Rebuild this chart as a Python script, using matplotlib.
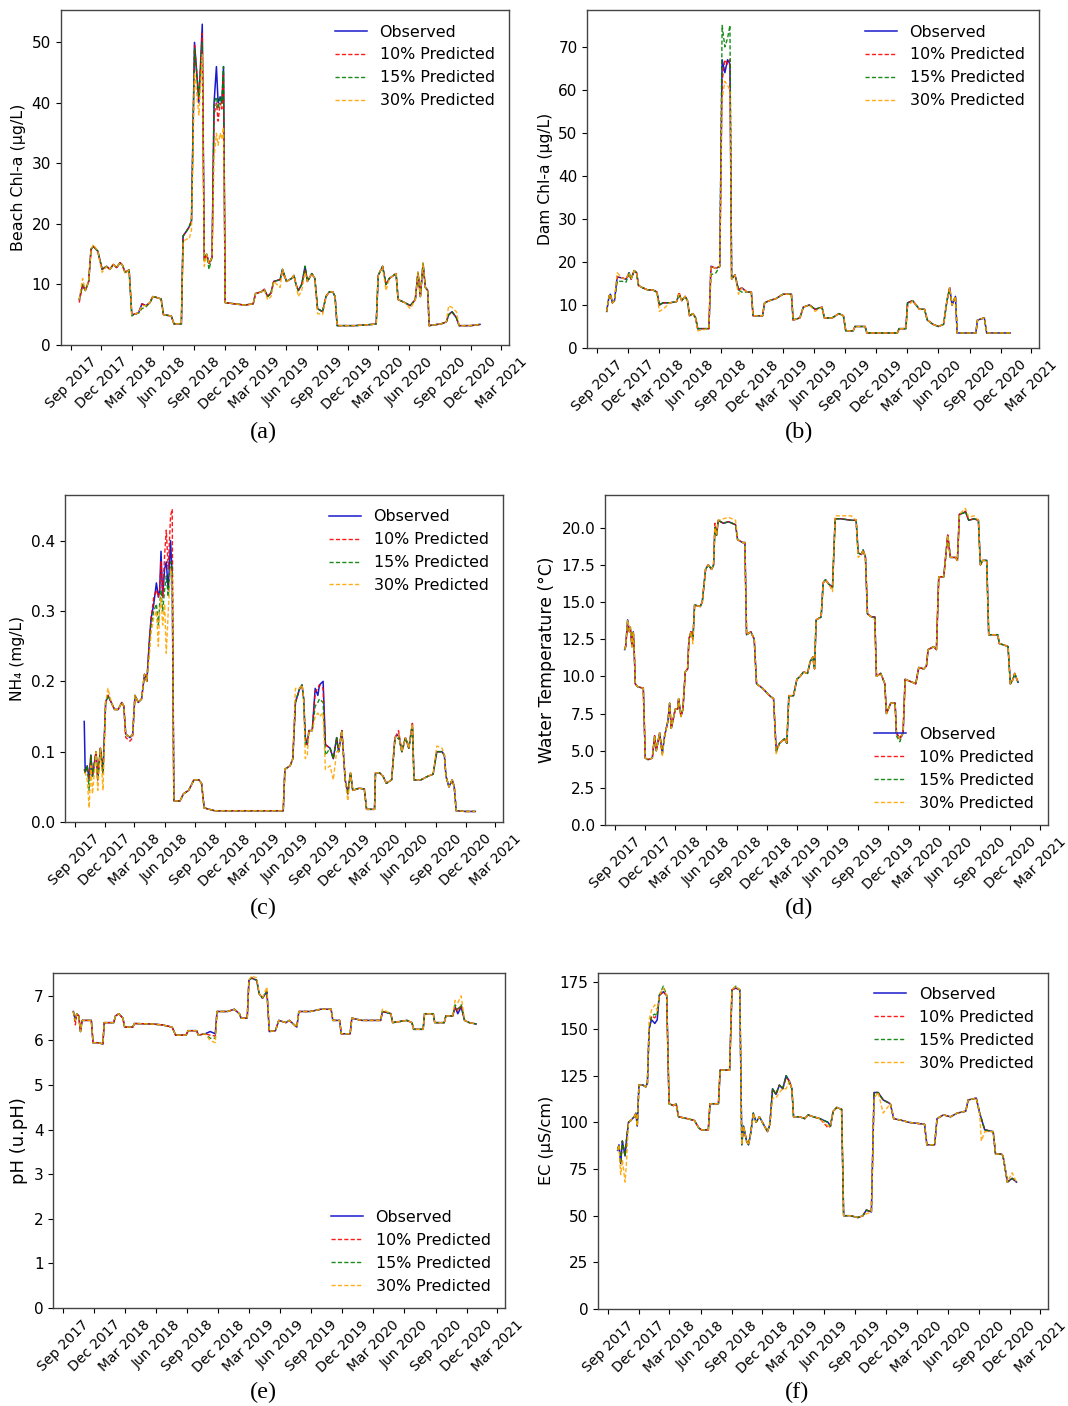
import matplotlib
matplotlib.use('Agg')
import matplotlib.pyplot as plt
import matplotlib.dates as mdates
from matplotlib.ticker import MultipleLocator
import pandas as pd

# ---------------- (a) Beach Chl-a ----------------
a_dates = ['2017-09-26', '2017-10-06', '2017-10-14', '2017-10-24', '2017-10-31', '2017-11-07', '2017-11-20', '2017-12-03', '2017-12-16', '2017-12-26',
           '2018-01-05', '2018-01-15', '2018-01-25', '2018-02-01', '2018-02-09', '2018-02-21', '2018-03-01', '2018-03-21', '2018-03-31', '2018-04-12',
           '2018-04-24', '2018-05-02', '2018-05-17', '2018-05-27', '2018-06-03', '2018-06-26', '2018-07-04', '2018-07-26', '2018-07-31', '2018-08-10',
           '2018-08-18', '2018-08-25', '2018-09-03', '2018-09-16', '2018-09-26', '2018-10-02', '2018-10-09', '2018-10-16', '2018-10-25', '2018-10-31',
           '2018-11-07', '2018-11-12', '2018-11-18', '2018-11-23', '2018-11-28', '2018-12-03', '2018-12-31', '2019-01-30', '2019-02-24', '2019-03-03',
           '2019-03-21', '2019-03-29', '2019-04-08', '2019-04-18', '2019-04-26', '2019-05-15', '2019-05-22', '2019-06-03', '2019-06-18', '2019-06-25',
           '2019-07-01', '2019-07-08', '2019-07-18', '2019-07-28', '2019-08-04', '2019-08-17', '2019-08-26', '2019-09-03', '2019-09-18', '2019-09-28',
           '2019-10-08', '2019-10-18', '2019-10-25', '2019-10-31', '2019-12-23', '2020-02-12', '2020-02-24', '2020-03-01', '2020-03-14', '2020-03-24',
           '2020-04-03', '2020-04-23', '2020-04-29', '2020-05-19', '2020-06-04', '2020-06-19', '2020-06-27', '2020-07-04', '2020-07-12', '2020-07-19',
           '2020-07-26', '2020-07-30', '2020-09-04', '2020-09-19', '2020-09-26', '2020-10-06', '2020-10-19', '2020-10-27', '2020-12-01', '2020-12-28']
a_obs = [7.5, 10.0, 9.0, 10.5, 15.8, 16.3, 15.5, 12.5, 13.0, 12.5,
         13.3, 12.8, 13.6, 13.2, 12.0, 12.4, 5.0, 5.3, 6.8, 6.5,
         7.0, 8.0, 7.8, 7.6, 5.0, 4.8, 3.5, 3.5, 18.0, 18.8,
         19.5, 20.5, 50.0, 40.0, 53.0, 14.0, 15.0, 13.5, 14.5, 40.0,
         46.0, 40.0, 41.0, 40.0, 46.0, 7.0, 6.8, 6.6, 6.8, 8.5,
         8.8, 9.2, 8.0, 8.6, 10.5, 10.8, 12.5, 10.5, 11.0, 11.5,
         10.0, 9.0, 10.0, 13.0, 10.5, 11.8, 11.0, 6.0, 5.5, 8.0,
         8.8, 8.8, 8.0, 3.2, 3.2, 3.4, 3.5, 11.5, 13.0, 10.0,
         11.0, 11.8, 7.5, 7.0, 6.5, 7.5, 12.0, 8.0, 13.5, 9.5,
         9.0, 3.2, 3.5, 3.8, 5.0, 5.5, 4.5, 3.2, 3.2, 3.4]
a_p10 = [7.0, 10.0, 9.0, 10.5, 15.8, 16.3, 15.5, 12.5, 13.0, 12.5,
         13.3, 12.8, 13.6, 13.2, 12.0, 12.4, 5.0, 5.3, 6.8, 6.5,
         7.0, 8.0, 7.8, 7.6, 5.0, 4.8, 3.5, 3.5, 18.0, 18.8,
         19.5, 20.5, 49.5, 40.5, 51.5, 14.0, 15.0, 13.5, 14.5, 38.0,
         40.0, 37.0, 40.0, 39.0, 45.0, 7.0, 6.8, 6.6, 6.8, 8.5,
         8.8, 9.2, 8.0, 8.6, 10.5, 10.8, 12.0, 10.5, 11.0, 11.5,
         10.0, 9.0, 10.0, 12.5, 10.5, 11.8, 11.0, 6.0, 5.5, 8.0,
         8.8, 8.8, 8.0, 3.2, 3.2, 3.4, 3.5, 11.5, 13.0, 10.0,
         11.0, 11.8, 7.5, 7.0, 6.5, 7.5, 12.0, 8.0, 13.0, 9.5,
         9.0, 3.2, 3.5, 3.8, 5.0, 5.5, 4.5, 3.2, 3.2, 3.4]
a_p15 = [7.5, 10.0, 9.0, 10.5, 15.8, 16.3, 15.5, 12.5, 13.0, 12.5,
         13.3, 12.8, 13.6, 13.2, 12.0, 12.4, 4.8, 5.3, 6.0, 6.3,
         7.0, 8.0, 7.8, 7.6, 5.0, 4.8, 3.5, 3.5, 18.0, 18.8,
         19.5, 20.5, 49.0, 41.0, 50.0, 14.0, 15.0, 12.5, 14.5, 40.0,
         41.0, 39.0, 41.0, 40.0, 46.0, 7.0, 6.8, 6.6, 6.8, 8.5,
         8.8, 9.2, 8.0, 8.6, 10.5, 10.8, 12.5, 10.5, 11.0, 11.5,
         10.0, 9.0, 10.0, 13.0, 10.5, 11.8, 11.0, 6.0, 5.5, 8.0,
         8.8, 8.8, 8.0, 3.2, 3.2, 3.4, 3.5, 11.5, 13.0, 10.0,
         11.0, 11.8, 7.5, 7.0, 6.5, 7.5, 12.0, 8.0, 13.5, 9.5,
         9.0, 3.2, 3.5, 3.8, 5.0, 5.5, 4.5, 3.2, 3.2, 3.4]
a_p30 = [7.5, 11.0, 9.0, 10.5, 15.8, 16.6, 15.5, 12.0, 13.0, 12.5,
         13.3, 12.8, 13.6, 13.2, 11.8, 12.4, 5.0, 5.3, 6.5, 6.5,
         7.0, 8.0, 7.8, 7.6, 5.0, 4.8, 3.5, 3.5, 17.0, 17.5,
         17.5, 19.0, 45.0, 38.0, 48.0, 13.0, 15.0, 13.5, 14.5, 31.0,
         35.0, 33.0, 35.0, 34.0, 36.0, 7.0, 6.8, 6.6, 6.8, 8.5,
         8.8, 9.2, 7.5, 8.0, 10.5, 9.5, 12.5, 10.5, 11.0, 11.5,
         10.0, 8.0, 9.0, 12.0, 10.5, 11.8, 11.0, 5.2, 5.0, 8.0,
         8.8, 8.8, 8.0, 3.2, 3.2, 3.4, 3.5, 11.5, 13.0, 9.0,
         11.0, 11.8, 7.5, 7.0, 6.0, 7.5, 12.0, 8.0, 13.5, 9.5,
         9.0, 3.2, 3.5, 3.8, 6.5, 6.2, 5.5, 3.2, 3.2, 3.4]

# ---------------- (b) Dam Chl-a ----------------
b_dates = ['2017-09-28', '2017-10-05', '2017-10-09', '2017-10-15', '2017-10-21', '2017-10-29', '2017-11-12', '2017-11-24', '2017-12-03', '2017-12-09',
           '2017-12-18', '2017-12-25', '2017-12-31', '2018-01-12', '2018-01-27', '2018-02-11', '2018-02-23', '2018-03-02', '2018-03-13', '2018-04-02',
           '2018-04-22', '2018-04-29', '2018-05-07', '2018-05-17', '2018-05-24', '2018-05-30', '2018-06-09', '2018-06-17', '2018-06-23', '2018-07-26',
           '2018-08-01', '2018-08-16', '2018-08-27', '2018-09-03', '2018-09-11', '2018-09-19', '2018-09-26', '2018-10-01', '2018-10-11', '2018-10-21',
           '2018-10-31', '2018-11-15', '2018-11-28', '2018-12-03', '2018-12-31', '2019-01-06', '2019-01-20', '2019-02-09', '2019-03-01', '2019-03-26',
           '2019-03-31', '2019-04-20', '2019-04-30', '2019-05-18', '2019-06-04', '2019-06-24', '2019-07-01', '2019-07-24', '2019-08-13', '2019-08-26',
           '2019-09-02', '2019-09-24', '2019-09-29', '2019-10-29', '2019-11-03', '2020-02-01', '2020-02-06', '2020-02-26', '2020-03-02', '2020-03-17',
           '2020-04-06', '2020-04-21', '2020-04-29', '2020-05-16', '2020-06-01', '2020-06-16', '2020-06-26', '2020-07-04', '2020-07-11', '2020-07-21',
           '2020-07-26', '2020-09-19', '2020-09-24', '2020-10-14', '2020-10-21', '2020-12-01', '2020-12-29']
b_obs = [8.5, 12.0, 12.5, 10.5, 11.0, 16.5, 16.3, 16.0, 17.5, 16.0,
         18.0, 17.5, 14.5, 14.0, 13.5, 13.5, 13.0, 10.0, 10.5, 10.5,
         10.8, 12.5, 11.0, 12.0, 11.0, 7.5, 8.0, 7.0, 4.5, 4.5,
         19.0, 18.5, 19.0, 67.0, 64.0, 67.0, 66.0, 16.0, 17.0, 13.5,
         14.0, 13.0, 13.0, 7.5, 7.5, 10.5, 11.0, 11.5, 12.5, 12.5,
         6.5, 7.0, 9.5, 10.0, 9.0, 9.5, 7.0, 7.0, 8.0, 7.5,
         4.0, 4.0, 5.0, 5.0, 3.5, 3.5, 4.5, 4.5, 10.5, 11.0,
         9.0, 9.0, 6.5, 5.5, 5.0, 5.5, 11.0, 14.0, 10.0, 12.0,
         3.5, 3.5, 6.5, 7.0, 3.5, 3.5, 3.5]
b_p10 = [8.5, 12.0, 12.5, 10.5, 11.0, 16.5, 16.3, 16.0, 17.0, 16.0,
         18.0, 17.5, 14.5, 14.0, 13.5, 13.5, 13.0, 10.0, 10.5, 10.5,
         10.8, 13.0, 11.0, 12.0, 11.0, 7.5, 8.0, 7.0, 4.5, 4.5,
         19.0, 18.5, 19.0, 62.0, 67.0, 66.0, 67.0, 16.0, 17.0, 13.5,
         14.0, 13.0, 13.0, 7.5, 7.5, 10.5, 11.0, 11.5, 12.5, 12.5,
         6.5, 7.0, 9.5, 10.0, 9.0, 9.5, 7.0, 7.0, 8.0, 7.5,
         4.0, 4.0, 5.0, 5.0, 3.5, 3.5, 4.5, 4.5, 10.5, 11.0,
         9.0, 9.0, 6.5, 5.5, 5.0, 5.5, 11.0, 14.0, 10.0, 12.0,
         3.5, 3.5, 6.5, 7.0, 3.5, 3.5, 3.5]
b_p15 = [8.5, 12.0, 12.5, 10.5, 11.0, 15.5, 15.5, 15.3, 17.5, 16.0,
         18.0, 17.5, 14.5, 14.0, 13.5, 13.5, 13.0, 10.0, 10.5, 10.5,
         10.8, 12.5, 11.0, 12.0, 11.0, 7.5, 8.0, 7.0, 4.5, 4.5,
         17.0, 17.5, 19.0, 75.0, 70.0, 72.0, 75.0, 16.0, 17.0, 13.5,
         13.0, 13.0, 13.0, 7.5, 7.5, 10.5, 11.0, 11.5, 12.5, 12.5,
         6.5, 7.0, 9.5, 10.0, 9.0, 9.5, 7.0, 7.0, 8.0, 7.5,
         4.0, 4.0, 5.0, 5.0, 3.5, 3.5, 4.5, 4.5, 10.5, 11.0,
         9.0, 9.0, 6.5, 5.5, 5.0, 5.5, 11.0, 13.5, 10.0, 12.0,
         3.5, 3.5, 6.5, 7.0, 3.5, 3.5, 3.5]
b_p30 = [8.5, 12.0, 12.5, 10.5, 11.0, 17.5, 16.3, 16.0, 17.5, 16.0,
         18.0, 17.5, 14.5, 14.0, 13.5, 13.5, 13.0, 8.5, 9.0, 10.5,
         10.8, 12.5, 11.0, 12.0, 11.0, 7.5, 8.0, 7.0, 4.0, 4.5,
         19.0, 18.5, 19.0, 58.0, 62.0, 61.0, 60.0, 16.0, 17.0, 12.5,
         14.0, 13.0, 13.0, 7.5, 7.5, 10.5, 11.0, 11.5, 12.5, 12.5,
         6.5, 7.0, 9.5, 10.0, 8.5, 9.5, 7.0, 7.0, 8.0, 7.5,
         4.0, 4.0, 5.0, 5.0, 3.5, 3.5, 4.5, 4.5, 9.5, 11.0,
         9.0, 9.0, 6.5, 5.5, 5.0, 5.5, 11.0, 14.0, 10.0, 12.0,
         3.5, 3.5, 6.5, 7.0, 3.5, 3.5, 3.5]

# ---------------- (c) NH4 ----------------
c_dates = ['2017-09-30', '2017-10-03', '2017-10-09', '2017-10-15', '2017-10-20', '2017-10-25', '2017-11-05', '2017-11-10', '2017-11-18', '2017-11-26',
           '2017-12-04', '2017-12-11', '2017-12-21', '2017-12-31', '2018-01-11', '2018-01-22', '2018-01-28', '2018-02-03', '2018-02-16', '2018-02-24',
           '2018-03-03', '2018-03-13', '2018-03-23', '2018-04-01', '2018-04-08', '2018-04-16', '2018-04-21', '2018-04-29', '2018-05-07', '2018-05-13',
           '2018-05-17', '2018-05-21', '2018-05-26', '2018-06-01', '2018-06-06', '2018-06-12', '2018-06-19', '2018-06-24', '2018-06-29', '2018-07-18',
           '2018-07-28', '2018-08-13', '2018-08-29', '2018-09-13', '2018-09-21', '2018-09-29', '2018-10-31', '2019-01-24', '2019-04-15', '2019-05-27',
           '2019-06-01', '2019-06-17', '2019-06-25', '2019-07-03', '2019-07-16', '2019-07-23', '2019-07-28', '2019-08-02', '2019-08-08', '2019-08-13',
           '2019-08-23', '2019-09-01', '2019-09-09', '2019-09-14', '2019-09-25', '2019-10-02', '2019-10-16', '2019-10-26', '2019-11-05', '2019-11-11',
           '2019-11-21', '2019-12-01', '2019-12-09', '2019-12-17', '2019-12-24', '2020-01-12', '2020-01-28', '2020-02-04', '2020-02-28', '2020-03-02',
           '2020-03-14', '2020-03-25', '2020-04-04', '2020-04-20', '2020-04-30', '2020-05-11', '2020-05-21', '2020-06-01', '2020-06-11', '2020-06-22',
           '2020-06-27', '2020-07-18', '2020-08-08', '2020-08-24', '2020-09-04', '2020-09-20', '2020-09-27', '2020-10-02', '2020-10-11', '2020-10-21',
           '2020-10-27', '2020-11-02', '2020-12-01', '2020-12-30']
c_obs = [0.143, 0.07, 0.08, 0.06, 0.095, 0.065, 0.10, 0.06, 0.105, 0.07,
         0.17, 0.18, 0.17, 0.16, 0.16, 0.17, 0.165, 0.125, 0.12, 0.125,
         0.18, 0.17, 0.175, 0.21, 0.20, 0.26, 0.29, 0.31, 0.34, 0.32,
         0.33, 0.385, 0.32, 0.36, 0.37, 0.33, 0.40, 0.35, 0.03, 0.03,
         0.04, 0.045, 0.06, 0.06, 0.055, 0.02, 0.016, 0.016, 0.016, 0.016,
         0.075, 0.08, 0.09, 0.17, 0.19, 0.195, 0.175, 0.12, 0.11, 0.13,
         0.13, 0.19, 0.18, 0.195, 0.20, 0.11, 0.105, 0.09, 0.12, 0.10,
         0.13, 0.06, 0.04, 0.07, 0.045, 0.048, 0.047, 0.018, 0.018, 0.07,
         0.07, 0.065, 0.055, 0.06, 0.12, 0.125, 0.10, 0.12, 0.105, 0.14,
         0.06, 0.06, 0.065, 0.068, 0.10, 0.10, 0.095, 0.065, 0.05, 0.06,
         0.05, 0.016, 0.015, 0.015]
c_p10 = [0.075, 0.07, 0.08, 0.06, 0.095, 0.065, 0.10, 0.06, 0.105, 0.07,
         0.17, 0.18, 0.17, 0.16, 0.16, 0.17, 0.165, 0.12, 0.115, 0.12,
         0.18, 0.17, 0.175, 0.21, 0.20, 0.26, 0.29, 0.32, 0.33, 0.32,
         0.33, 0.37, 0.32, 0.38, 0.415, 0.36, 0.435, 0.445, 0.03, 0.03,
         0.04, 0.045, 0.06, 0.06, 0.055, 0.02, 0.016, 0.016, 0.016, 0.016,
         0.075, 0.08, 0.09, 0.17, 0.19, 0.195, 0.175, 0.12, 0.11, 0.13,
         0.13, 0.185, 0.19, 0.195, 0.19, 0.11, 0.105, 0.09, 0.12, 0.10,
         0.13, 0.06, 0.04, 0.07, 0.045, 0.048, 0.047, 0.018, 0.018, 0.07,
         0.07, 0.065, 0.055, 0.06, 0.12, 0.13, 0.10, 0.12, 0.105, 0.14,
         0.06, 0.06, 0.065, 0.068, 0.10, 0.10, 0.095, 0.065, 0.05, 0.06,
         0.05, 0.016, 0.015, 0.015]
c_p15 = [0.075, 0.07, 0.08, 0.045, 0.095, 0.065, 0.10, 0.06, 0.105, 0.07,
         0.17, 0.18, 0.17, 0.16, 0.16, 0.17, 0.165, 0.125, 0.12, 0.125,
         0.18, 0.17, 0.175, 0.21, 0.20, 0.25, 0.28, 0.30, 0.31, 0.28,
         0.31, 0.33, 0.30, 0.33, 0.35, 0.32, 0.37, 0.36, 0.03, 0.03,
         0.04, 0.045, 0.06, 0.06, 0.055, 0.02, 0.016, 0.016, 0.016, 0.016,
         0.075, 0.08, 0.09, 0.17, 0.19, 0.195, 0.175, 0.11, 0.11, 0.13,
         0.13, 0.165, 0.17, 0.175, 0.17, 0.095, 0.105, 0.09, 0.12, 0.10,
         0.13, 0.06, 0.04, 0.07, 0.045, 0.048, 0.047, 0.018, 0.018, 0.07,
         0.07, 0.065, 0.055, 0.06, 0.115, 0.12, 0.10, 0.12, 0.105, 0.135,
         0.06, 0.06, 0.065, 0.068, 0.10, 0.10, 0.095, 0.065, 0.05, 0.06,
         0.05, 0.016, 0.015, 0.015]
c_p30 = [0.07, 0.07, 0.06, 0.02, 0.08, 0.04, 0.10, 0.045, 0.105, 0.045,
         0.17, 0.19, 0.17, 0.16, 0.16, 0.17, 0.165, 0.125, 0.12, 0.125,
         0.18, 0.17, 0.175, 0.21, 0.20, 0.24, 0.27, 0.29, 0.30, 0.25,
         0.30, 0.32, 0.28, 0.31, 0.24, 0.30, 0.36, 0.35, 0.03, 0.03,
         0.04, 0.045, 0.06, 0.06, 0.055, 0.02, 0.016, 0.016, 0.016, 0.016,
         0.075, 0.08, 0.09, 0.19, 0.19, 0.195, 0.175, 0.09, 0.095, 0.13,
         0.13, 0.15, 0.155, 0.15, 0.155, 0.075, 0.08, 0.06, 0.10, 0.10,
         0.13, 0.06, 0.03, 0.07, 0.045, 0.048, 0.047, 0.018, 0.018, 0.07,
         0.07, 0.065, 0.055, 0.06, 0.12, 0.125, 0.10, 0.12, 0.105, 0.14,
         0.06, 0.06, 0.065, 0.068, 0.108, 0.105, 0.095, 0.065, 0.05, 0.06,
         0.05, 0.016, 0.015, 0.015]

# ---------------- (d) Water temperature ----------------
d_dates = ['2017-09-30', '2017-10-03', '2017-10-09', '2017-10-14', '2017-10-17', '2017-10-22', '2017-10-26', '2017-10-29', '2017-11-01', '2017-11-08',
           '2017-11-25', '2017-12-01', '2017-12-09', '2017-12-22', '2017-12-29', '2018-01-03', '2018-01-13', '2018-01-21', '2018-01-28', '2018-02-02',
           '2018-02-07', '2018-02-12', '2018-02-17', '2018-03-01', '2018-03-08', '2018-03-11', '2018-03-18', '2018-03-24', '2018-03-31', '2018-04-07',
           '2018-04-11', '2018-04-17', '2018-04-23', '2018-04-28', '2018-05-15', '2018-05-21', '2018-05-31', '2018-06-08', '2018-06-18', '2018-06-24',
           '2018-06-28', '2018-07-03', '2018-07-08', '2018-07-23', '2018-08-08', '2018-08-29', '2018-09-04', '2018-09-19', '2018-09-26', '2018-10-01',
           '2018-10-14', '2018-10-24', '2018-10-31', '2018-11-18', '2018-12-09', '2018-12-21', '2018-12-29', '2019-01-08', '2019-01-23', '2019-01-30',
           '2019-02-05', '2019-02-19', '2019-03-01', '2019-03-11', '2019-03-21', '2019-04-02', '2019-04-10', '2019-04-18', '2019-04-23', '2019-04-28',
           '2019-05-13', '2019-05-19', '2019-05-26', '2019-06-05', '2019-06-16', '2019-06-24', '2019-07-11', '2019-08-11', '2019-08-26', '2019-09-01',
           '2019-09-11', '2019-09-16', '2019-09-23', '2019-09-29', '2019-10-11', '2019-10-21', '2019-10-26', '2019-11-08', '2019-11-15', '2019-11-20',
           '2019-11-25', '2019-12-08', '2019-12-21', '2019-12-25', '2020-01-04', '2020-01-14', '2020-01-20', '2020-02-11', '2020-02-21', '2020-03-01',
           '2020-03-16', '2020-03-24', '2020-03-29', '2020-04-15', '2020-04-23', '2020-04-30', '2020-05-15', '2020-05-27', '2020-06-04', '2020-06-19',
           '2020-06-25', '2020-07-01', '2020-07-14', '2020-07-19', '2020-07-29', '2020-08-14', '2020-08-27', '2020-09-02', '2020-09-09', '2020-09-21',
           '2020-09-27', '2020-10-14', '2020-10-24', '2020-10-29', '2020-11-13', '2020-11-24', '2020-12-01', '2020-12-09', '2020-12-14', '2020-12-24']
d_obs = [11.8, 12.0, 13.8, 13.0, 13.3, 12.0, 13.0, 11.5, 9.5, 9.3,
         9.2, 4.5, 4.4, 4.5, 6.0, 5.0, 6.2, 4.8, 6.0, 6.5,
         7.0, 8.2, 6.5, 7.8, 7.8, 8.5, 7.3, 7.8, 10.3, 10.5,
         12.5, 13.0, 12.5, 14.8, 14.7, 15.0, 17.2, 17.5, 17.2, 17.5,
         20.0, 19.5, 20.5, 20.3, 20.4, 20.2, 19.2, 19.0, 19.0, 12.8,
         13.0, 12.5, 9.5, 9.2, 8.7, 8.5, 5.0, 5.5, 5.8, 5.5,
         8.7, 8.7, 9.8, 10.0, 10.3, 10.2, 11.0, 11.3, 10.5, 13.8,
         14.0, 16.3, 16.5, 16.2, 16.0, 20.6, 20.6, 20.5, 20.5, 18.3,
         18.2, 18.5, 18.0, 14.2, 14.0, 14.0, 10.0, 10.2, 9.8, 9.5,
         7.5, 8.2, 8.2, 6.2, 5.8, 6.2, 9.8, 9.6, 9.5, 10.6,
         10.5, 10.7, 11.8, 12.0, 11.8, 16.7, 16.7, 19.5, 18.0, 18.0,
         17.8, 20.9, 21.0, 21.1, 20.5, 20.6, 20.5, 17.5, 17.8, 17.8,
         12.8, 12.8, 12.8, 12.2, 12.1, 12.0, 9.5, 9.8, 10.2, 9.6]
d_p10 = [12.0, 12.0, 13.5, 13.0, 13.3, 12.0, 13.0, 11.5, 9.5, 9.3,
         9.2, 4.5, 4.4, 4.5, 6.0, 5.0, 6.1, 4.8, 6.0, 6.5,
         7.0, 8.1, 6.5, 7.8, 7.8, 8.5, 7.3, 7.8, 10.3, 10.5,
         12.5, 13.0, 12.5, 14.8, 14.7, 15.0, 17.2, 17.5, 17.2, 17.5,
         20.3, 19.5, 20.5, 20.3, 20.4, 20.2, 19.2, 19.0, 19.0, 12.8,
         13.0, 12.5, 9.5, 9.2, 8.7, 8.5, 5.0, 5.5, 5.8, 5.5,
         8.7, 8.7, 9.8, 10.0, 10.3, 10.2, 11.0, 11.3, 10.5, 13.8,
         14.0, 16.3, 16.5, 16.2, 16.0, 20.6, 20.6, 20.5, 20.5, 18.3,
         18.2, 18.5, 18.0, 14.2, 14.0, 14.0, 10.0, 10.2, 9.8, 9.5,
         7.5, 8.2, 8.2, 6.2, 5.8, 6.2, 9.8, 9.6, 9.5, 10.6,
         10.5, 10.7, 11.8, 12.0, 11.8, 16.7, 16.7, 19.5, 18.0, 18.0,
         17.8, 20.9, 21.0, 21.1, 20.5, 20.6, 20.5, 17.5, 17.8, 17.8,
         12.8, 12.8, 12.8, 12.2, 12.1, 12.0, 9.5, 9.8, 10.2, 9.6]
d_p15 = [11.8, 12.0, 13.8, 13.0, 13.3, 12.0, 13.0, 11.5, 9.5, 9.3,
         9.2, 4.5, 4.4, 4.5, 6.0, 5.0, 6.2, 4.8, 6.0, 6.5,
         7.0, 8.2, 6.5, 7.8, 7.8, 8.5, 7.3, 7.8, 10.3, 10.5,
         12.5, 13.0, 12.5, 14.8, 14.7, 15.0, 17.2, 17.5, 17.2, 17.5,
         20.0, 19.5, 20.5, 20.3, 20.4, 20.2, 19.2, 19.0, 19.0, 12.8,
         13.0, 12.5, 9.5, 9.2, 8.7, 8.5, 4.9, 5.5, 5.8, 5.5,
         8.7, 8.7, 9.8, 10.0, 10.3, 10.2, 11.0, 11.3, 10.5, 13.8,
         14.0, 16.3, 16.5, 16.2, 16.0, 20.6, 20.6, 20.5, 20.5, 18.3,
         18.2, 18.5, 18.0, 14.2, 14.0, 14.0, 10.0, 10.2, 9.8, 9.5,
         7.5, 8.2, 8.2, 6.0, 5.6, 6.2, 9.8, 9.6, 9.5, 10.6,
         10.5, 10.7, 11.8, 12.0, 11.8, 16.7, 16.7, 19.5, 18.0, 18.0,
         17.8, 20.9, 21.0, 21.1, 20.5, 20.6, 20.5, 17.5, 17.8, 17.8,
         12.8, 12.8, 12.8, 12.2, 12.1, 12.0, 9.5, 9.8, 10.2, 9.6]
d_p30 = [11.8, 12.0, 13.8, 13.0, 13.3, 12.0, 13.0, 11.5, 9.5, 9.3,
         9.2, 4.5, 4.4, 4.5, 6.0, 5.0, 6.2, 4.6, 6.0, 6.5,
         7.0, 8.2, 6.5, 7.8, 7.8, 8.5, 7.3, 7.8, 10.3, 10.5,
         12.5, 13.0, 12.2, 14.8, 14.7, 15.0, 17.2, 17.5, 17.2, 17.5,
         20.0, 19.5, 20.5, 20.6, 20.7, 20.5, 19.2, 19.0, 19.0, 12.8,
         13.0, 12.5, 9.5, 9.2, 8.7, 8.5, 4.8, 5.5, 5.8, 5.5,
         8.7, 8.7, 9.8, 10.0, 10.3, 10.2, 11.0, 11.3, 10.5, 13.8,
         14.0, 16.3, 16.5, 16.2, 15.7, 20.8, 20.8, 20.8, 20.5, 18.0,
         18.2, 18.5, 18.0, 14.2, 14.0, 13.8, 10.0, 10.2, 9.8, 9.5,
         7.5, 8.2, 8.2, 6.2, 5.8, 6.2, 9.8, 9.6, 9.5, 10.6,
         10.5, 10.7, 11.8, 12.0, 11.8, 16.7, 16.7, 19.5, 18.0, 18.0,
         17.8, 20.9, 21.2, 21.3, 20.7, 20.8, 20.5, 17.5, 17.8, 17.8,
         12.8, 12.8, 12.8, 12.2, 12.1, 12.0, 9.5, 9.8, 10.2, 9.6]

# ---------------- (e) pH ----------------
e_dates = ['2017-09-30', '2017-10-06', '2017-10-10', '2017-10-16', '2017-10-21', '2017-10-26', '2017-11-07', '2017-11-22', '2017-11-27', '2017-12-13',
           '2017-12-26', '2017-12-30', '2018-01-27', '2018-02-01', '2018-02-11', '2018-02-23', '2018-02-28', '2018-03-24', '2018-03-29', '2018-05-19',
           '2018-06-18', '2018-07-18', '2018-07-28', '2018-08-28', '2018-09-03', '2018-09-28', '2018-10-03', '2018-10-23', '2018-11-07', '2018-11-22',
           '2018-11-27', '2018-12-28', '2019-01-17', '2019-02-01', '2019-02-06', '2019-02-24', '2019-03-01', '2019-03-09', '2019-03-24', '2019-03-31',
           '2019-04-10', '2019-04-23', '2019-04-30', '2019-05-18', '2019-05-28', '2019-06-18', '2019-06-28', '2019-07-20', '2019-07-26', '2019-08-29',
           '2019-09-28', '2019-10-29', '2019-11-03', '2019-11-23', '2019-11-28', '2019-12-24', '2019-12-29', '2020-01-28', '2020-03-23', '2020-03-28',
           '2020-04-22', '2020-04-27', '2020-06-08', '2020-06-23', '2020-06-28', '2020-07-26', '2020-07-30', '2020-08-25', '2020-08-29', '2020-09-26',
           '2020-10-01', '2020-10-21', '2020-10-28', '2020-11-05', '2020-11-15', '2020-11-25', '2020-12-09', '2020-12-29']
e_obs = [6.65, 6.45, 6.6, 6.55, 6.2, 6.45, 6.45, 6.45, 5.95, 5.95,
         5.92, 6.4, 6.4, 6.55, 6.6, 6.5, 6.3, 6.3, 6.38, 6.37,
         6.35, 6.3, 6.12, 6.12, 6.22, 6.22, 6.12, 6.15, 6.2, 6.15,
         6.65, 6.65, 6.7, 6.6, 6.5, 6.5, 7.35, 7.4, 7.35, 7.05,
         6.95, 7.1, 6.2, 6.22, 6.45, 6.4, 6.45, 6.3, 6.65, 6.65,
         6.7, 6.7, 6.45, 6.45, 6.15, 6.15, 6.5, 6.45, 6.45, 6.65,
         6.6, 6.4, 6.45, 6.4, 6.25, 6.25, 6.6, 6.6, 6.4, 6.4,
         6.55, 6.55, 6.75, 6.6, 6.75, 6.45, 6.4, 6.37]
e_p10 = [6.65, 6.35, 6.6, 6.55, 6.2, 6.45, 6.45, 6.45, 5.95, 5.95,
         5.92, 6.4, 6.4, 6.55, 6.6, 6.5, 6.3, 6.3, 6.38, 6.37,
         6.35, 6.3, 6.12, 6.12, 6.22, 6.22, 6.12, 6.15, 6.12, 6.1,
         6.65, 6.65, 6.7, 6.6, 6.5, 6.5, 7.35, 7.4, 7.35, 7.05,
         6.95, 7.1, 6.2, 6.22, 6.45, 6.4, 6.45, 6.3, 6.65, 6.65,
         6.7, 6.7, 6.45, 6.45, 6.15, 6.15, 6.5, 6.45, 6.45, 6.65,
         6.6, 6.4, 6.45, 6.4, 6.25, 6.25, 6.6, 6.6, 6.4, 6.4,
         6.55, 6.55, 6.75, 6.65, 6.8, 6.45, 6.4, 6.37]
e_p15 = [6.65, 6.45, 6.6, 6.55, 6.2, 6.45, 6.45, 6.45, 5.95, 5.95,
         5.92, 6.4, 6.4, 6.55, 6.6, 6.5, 6.3, 6.3, 6.38, 6.37,
         6.35, 6.3, 6.12, 6.12, 6.22, 6.22, 6.12, 6.15, 6.05, 6.05,
         6.65, 6.65, 6.7, 6.6, 6.5, 6.5, 7.35, 7.4, 7.35, 7.05,
         6.95, 7.1, 6.2, 6.22, 6.45, 6.4, 6.45, 6.3, 6.65, 6.65,
         6.7, 6.7, 6.45, 6.45, 6.15, 6.15, 6.5, 6.45, 6.45, 6.65,
         6.6, 6.4, 6.45, 6.4, 6.25, 6.25, 6.6, 6.6, 6.4, 6.4,
         6.55, 6.55, 6.8, 6.7, 6.8, 6.45, 6.4, 6.37]
e_p30 = [6.65, 6.45, 6.6, 6.55, 6.2, 6.45, 6.45, 6.45, 5.95, 5.95,
         5.92, 6.4, 6.4, 6.55, 6.6, 6.5, 6.3, 6.3, 6.38, 6.37,
         6.35, 6.3, 6.12, 6.12, 6.22, 6.22, 6.12, 6.15, 6.0, 5.95,
         6.65, 6.65, 6.7, 6.6, 6.5, 6.5, 7.35, 7.45, 7.4, 7.05,
         6.95, 7.2, 6.2, 6.22, 6.45, 6.4, 6.45, 6.3, 6.65, 6.65,
         6.7, 6.7, 6.45, 6.45, 6.15, 6.15, 6.5, 6.45, 6.45, 6.7,
         6.6, 6.4, 6.45, 6.4, 6.25, 6.25, 6.6, 6.6, 6.4, 6.4,
         6.55, 6.55, 6.9, 6.85, 7.0, 6.45, 6.4, 6.37]

# ---------------- (f) EC ----------------
f_dates = ['2017-09-29', '2017-10-03', '2017-10-08', '2017-10-13', '2017-10-21', '2017-10-25', '2017-10-31', '2017-11-07', '2017-11-17', '2017-11-22',
           '2017-11-26', '2017-12-01', '2017-12-13', '2017-12-21', '2017-12-26', '2017-12-31', '2018-01-07', '2018-01-17', '2018-01-24', '2018-01-30',
           '2018-02-11', '2018-02-21', '2018-02-28', '2018-03-13', '2018-03-21', '2018-03-28', '2018-04-23', '2018-05-14', '2018-05-27', '2018-06-04',
           '2018-06-24', '2018-06-29', '2018-07-24', '2018-07-29', '2018-08-26', '2018-09-02', '2018-09-13', '2018-09-25', '2018-10-01', '2018-10-06',
           '2018-10-15', '2018-10-21', '2018-10-28', '2018-11-04', '2018-11-12', '2018-11-22', '2018-12-01', '2018-12-16', '2018-12-23', '2018-12-31',
           '2019-01-10', '2019-01-20', '2019-01-30', '2019-02-09', '2019-02-19', '2019-02-26', '2019-03-03', '2019-03-21', '2019-04-05', '2019-04-15',
           '2019-04-30', '2019-05-20', '2019-06-13', '2019-06-20', '2019-06-28', '2019-07-09', '2019-07-23', '2019-07-29', '2019-08-17', '2019-09-09',
           '2019-09-24', '2019-10-04', '2019-10-19', '2019-10-27', '2019-11-08', '2019-11-23', '2019-12-14', '2019-12-24', '2020-01-18', '2020-02-07',
           '2020-03-24', '2020-03-31', '2020-04-23', '2020-04-30', '2020-05-19', '2020-06-09', '2020-06-29', '2020-07-24', '2020-07-31', '2020-08-24',
           '2020-09-03', '2020-09-08', '2020-09-18', '2020-10-13', '2020-10-20', '2020-11-07', '2020-11-11', '2020-11-24', '2020-12-08', '2020-12-21']
f_obs = [85, 88, 78, 90, 82, 90, 100, 101, 103, 105,
         98, 120, 120, 119, 121, 150, 155, 153, 155, 168,
         170, 168, 110, 109, 110, 103, 102, 101, 97, 96,
         96, 110, 110, 128, 128, 171, 172, 171, 88, 98,
         90, 88, 95, 105, 100, 103, 100, 95, 99, 118,
         115, 120, 118, 125, 122, 118, 103, 103, 102, 104,
         103, 102, 100, 98, 106, 108, 107, 50, 50, 49,
         50, 53, 52, 116, 116, 112, 110, 102, 101, 100,
         99, 88, 88, 102, 104, 103, 105, 106, 112, 113,
         105, 102, 96, 95, 83, 83, 82, 68, 70, 68]
f_p10 = [85, 88, 78, 90, 82, 90, 100, 101, 103, 105,
         98, 120, 120, 119, 121, 150, 157, 156, 158, 168,
         170, 168, 110, 109, 110, 103, 102, 101, 97, 96,
         96, 110, 110, 128, 128, 171, 172, 171, 88, 98,
         90, 88, 95, 105, 100, 103, 100, 95, 99, 118,
         115, 120, 118, 124, 122, 118, 103, 103, 102, 104,
         103, 102, 97, 98, 106, 108, 107, 50, 50, 49,
         50, 53, 52, 116, 116, 112, 110, 102, 101, 100,
         99, 88, 88, 102, 104, 103, 105, 106, 112, 113,
         105, 102, 96, 95, 83, 83, 82, 68, 70, 68]
f_p15 = [85, 88, 78, 90, 82, 90, 100, 101, 103, 105,
         98, 120, 120, 119, 121, 150, 157, 158, 157, 168,
         173, 168, 110, 109, 110, 103, 102, 101, 97, 96,
         96, 110, 110, 128, 128, 171, 173, 171, 88, 98,
         90, 88, 95, 105, 100, 103, 100, 95, 99, 118,
         115, 120, 118, 125, 121, 118, 103, 103, 102, 104,
         103, 102, 100, 98, 106, 108, 107, 50, 50, 49,
         50, 53, 52, 116, 116, 112, 110, 102, 101, 100,
         99, 88, 88, 102, 104, 103, 105, 106, 112, 113,
         105, 102, 96, 95, 83, 83, 82, 68, 70, 68]
f_p30 = [85, 88, 72, 80, 68, 78, 100, 101, 103, 105,
         98, 120, 120, 119, 121, 155, 160, 163, 160, 168,
         172, 168, 110, 109, 110, 103, 102, 101, 97, 96,
         96, 110, 110, 128, 128, 171, 173, 171, 88, 98,
         90, 88, 95, 105, 100, 103, 100, 95, 99, 113,
         113, 116, 118, 118, 122, 118, 103, 103, 102, 104,
         103, 102, 98, 98, 106, 108, 107, 50, 50, 49,
         50, 51, 52, 113, 116, 105, 110, 102, 101, 100,
         99, 88, 88, 102, 104, 103, 105, 106, 112, 113,
         105, 90, 95, 95, 83, 83, 82, 68, 73, 68]

labels = ['Observed', '10% Predicted', '15% Predicted', '30% Predicted']

# axes boxes in pixels (left, top, right, bottom) for a 1068x1406 canvas
W, H = 1068, 1406
boxes = [(60.7, 10.3, 509, 345), (587.3, 10.3, 1039, 348),
         (64.8, 495, 503, 822), (605, 495, 1048, 825),
         (53.3, 972.7, 505, 1308), (598, 972.7, 1048, 1309)]
captions = [('(a)', 263, 432), ('(b)', 799, 432), ('(c)', 263, 908),
            ('(d)', 799, 908), ('(e)', 263, 1392), ('(f)', 797, 1392)]

panels = [
    (a_dates, a_obs, a_p10, a_p15, a_p30, 'Beach Chl-a (μg/L)', 11.4, 55.3, 10, 'upper right'),
    (b_dates, b_obs, b_p10, b_p15, b_p30, 'Dam Chl-a (μg/L)', 11.2, 78.5, 10, 'upper right'),
    (c_dates, c_obs, c_p10, c_p15, c_p30, 'NH₄ (mg/L)', 11.2, 0.465, 0.1, 'upper right'),
    (d_dates, d_obs, d_p10, d_p15, d_p30, 'Water Temperature (°C)', 12.4, 22.2, 2.5, 'lower right'),
    (e_dates, e_obs, e_p10, e_p15, e_p30, 'pH (u.pH)', 13, 7.52, 1, 'lower right'),
    (f_dates, f_obs, f_p10, f_p15, f_p30, 'EC (μS/cm)', 11.6, 180.2, 25, 'upper right'),
]

fig = plt.figure(figsize=(W / 100, H / 100), dpi=100)

for (dates, obs, p10, p15, p30, ylab, ylfs, ytop, ystep, loc), box in zip(panels, boxes):
    l, t, r, b = box
    ax = fig.add_axes([l / W, 1 - b / H, (r - l) / W, (b - t) / H])
    x = pd.to_datetime(dates)
    ax.plot(x, obs, color='#1a1acc', lw=1.1, label=labels[0])
    ax.plot(x, p10, color='red', lw=1.0, ls=(0, (3, 1.6)), alpha=0.9, label=labels[1])
    ax.plot(x, p15, color='green', lw=1.0, ls=(0, (3, 1.6)), alpha=0.9, label=labels[2])
    ax.plot(x, p30, color='orange', lw=1.0, ls=(0, (3, 1.6)), alpha=0.9, label=labels[3])

    ax.set_xlim(pd.Timestamp('2017-08-02'), pd.Timestamp('2021-03-24'))
    ax.set_ylim(0, ytop)
    ax.yaxis.set_major_locator(MultipleLocator(ystep))
    ax.xaxis.set_major_locator(mdates.MonthLocator(bymonth=[3, 6, 9, 12]))
    ax.xaxis.set_major_formatter(mdates.DateFormatter('%b %Y'))
    ax.tick_params(axis='x', labelsize=10, labelrotation=45)
    ax.tick_params(axis='y', labelsize=11)
    ax.set_ylabel(ylab, fontsize=ylfs)
    for s in ax.spines.values():
        s.set_color('#444444')
        s.set_linewidth(1.0)
    ax.legend(loc=loc, frameon=False, fontsize=11.4)

for txt, cx, cy in captions:
    fig.text(cx / W, 1 - cy / H, txt, ha='center', va='center',
             family=['Liberation Serif', 'DejaVu Serif'], fontsize=17.5)

fig.savefig('out.png', dpi=100)
